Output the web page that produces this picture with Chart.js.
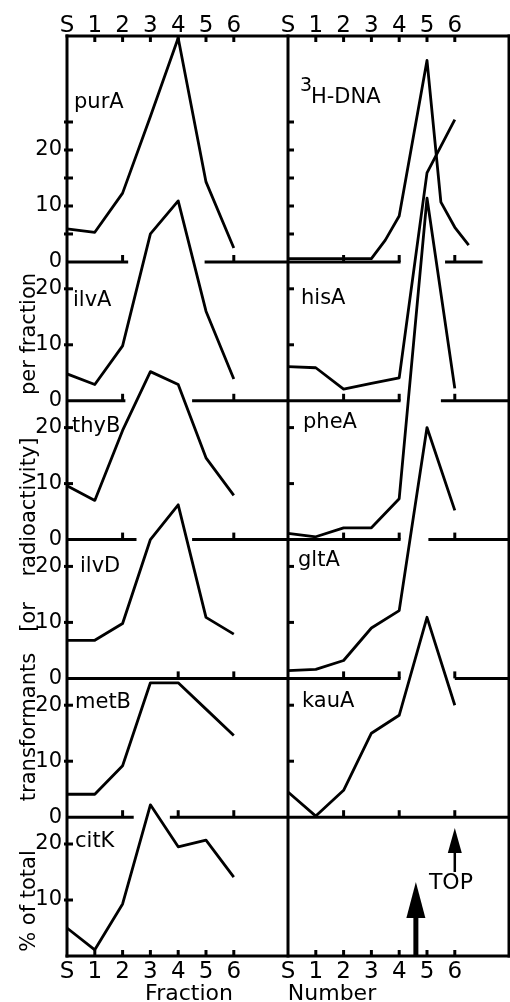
<!DOCTYPE html>
<html>
<head>
<meta charset="utf-8">
<script src="https://cdn.jsdelivr.net/npm/chart.js@4.4.0/dist/chart.umd.min.js"></script>
<style>
  html, body { margin: 0; padding: 0; background: #fff; }
  canvas { display: block; }
</style>
</head>
<body>
<canvas id="gradient" width="510" height="1002"></canvas>
<script>
// gradient fractions (S = bottom of tube) and the values per fraction
const fractions = [0, 1, 2, 3, 4, 5, 6];
const fractionLabels = ["S", "1", "2", "3", "4", "5", "6"];
const dnaFractions = [0, 1, 2, 3, 3.5, 4, 5, 5.5, 6, 6.5];

// left column, % of total transformants
const purA = [5.9, 5.3, 12.3, 26, 40, 14.3, 2.5];
const ilvA = [4.8, 2.9, 9.8, 29.8, 35.7, 16, 3.9];
const thyB = [9.6, 7, 19.5, 30, 27.7, 14.6, 7.9];
const ilvD = [6.8, 6.8, 9.8, 24.8, 31, 10.9, 7.9];
const metB = [4.1, 4.1, 9.2, 24, 24, 19.3, 14.6];
const citK = [5, 1.1, 9.3, 27, 19.5, 20.7, 14.1];

// right column, radioactivity and % of total transformants
const dna = [0.6, 0.6, 0.6, 0.6, 3.9, 8.2, 36, 10.7, 6.2, 3.0];
const hisA = [6.1, 5.9, 2.1, 3.1, 4.1, 40.7, 50.2];
const pheA = [1.1, 0.5, 2.1, 2.1, 7.3, 61, 27];
const gltA = [1.4, 1.6, 3.2, 9, 12.1, 44.8, 30];
const kauA = [4.5, 0.2, 4.8, 15, 18.2, 35.7, 20];

// y tick labels and tick marks per row
const topRowLabels = [0, 10, 20];
const rowLabels = [0, 10, 20];
const lastRowLabels = [10, 20];
const topRowMarks = [5, 10, 15, 20, 25];
const rowMarks = [10, 20];

const X_MAX = 7.95;
const ROW_MAX = 24.79;
const TOP_ROW_MAX = 40.36;

Chart.defaults.font.family = "'DejaVu Sans', sans-serif";
Chart.defaults.color = "#000";

const rowIds = ["yA", "yB", "yC", "yD", "yE", "yF"];

// label overflow padding would pull the frame in from the right edge
function noOverflow(s) {
  s.paddingLeft = 0;
  s.paddingRight = 0;
  s.paddingTop = 0;
  s.paddingBottom = 0;
}

function yAxis(order, max, shown) {
  return {
    type: "linear",
    position: "left",
    stack: "rows",
    stackWeight: max,
    weight: 10 - order,
    min: 0,
    max: max,
    grid: { display: false, drawTicks: false },
    border: { display: false },
    afterBuildTicks: s => { s.ticks = shown.map(v => ({ value: v })); },
    ticks: {
      autoSkip: false,
      padding: 5,
      font: { size: 21 },
      color: "#000"
    },
    afterFit: s => { s.width = 67; noOverflow(s); }
  };
}

function xAxis(pos, stackName, weight) {
  return {
    type: "linear",
    position: pos,
    stack: stackName,
    weight: weight,
    min: 0,
    max: X_MAX,
    grid: { display: false, drawTicks: false },
    border: { display: false },
    afterBuildTicks: s => { s.ticks = fractions.map(v => ({ value: v })); },
    ticks: {
      autoSkip: false,
      maxRotation: 0,
      padding: pos === "top" ? -4 : 2,
      font: { size: 23 },
      color: "#000",
      callback: v => fractionLabels[fractions.indexOf(v)] || ""
    },
    afterFit: s => { s.height = pos === "top" ? 36 : 46; noOverflow(s); }
  };
}

const scales = {
  x1: xAxis("bottom", "bottomRow", 0),
  x2: xAxis("bottom", "bottomRow", 1),
  xt1: xAxis("top", "topRow", 1),
  xt2: xAxis("top", "topRow", 0),
  yA: yAxis(0, TOP_ROW_MAX, topRowLabels),
  yB: yAxis(1, ROW_MAX, rowLabels),
  yC: yAxis(2, ROW_MAX, rowLabels),
  yD: yAxis(3, ROW_MAX, rowLabels),
  yE: yAxis(4, ROW_MAX, rowLabels),
  yF: yAxis(5, ROW_MAX, lastRowLabels)
};

function points(xs, ys) {
  return ys.map((y, i) => ({ x: xs[i], y: y }));
}

function series(label, xs, ys, col, row) {
  return {
    label: label,
    data: points(xs, ys),
    xAxisID: col === 0 ? "x1" : "x2",
    yAxisID: rowIds[row],
    borderColor: "#000",
    borderWidth: 2.8,
    borderJoinStyle: "round",
    pointRadius: 0,
    fill: false,
    tension: 0,
    clip: false
  };
}

const datasets = [
  series("purA", fractions, purA, 0, 0),
  series("ilvA", fractions, ilvA, 0, 1),
  series("thyB", fractions, thyB, 0, 2),
  series("ilvD", fractions, ilvD, 0, 3),
  series("metB", fractions, metB, 0, 4),
  series("citK", fractions, citK, 0, 5),
  series("3H-DNA", dnaFractions, dna, 1, 0),
  series("hisA", fractions, hisA, 1, 1),
  series("pheA", fractions, pheA, 1, 2),
  series("gltA", fractions, gltA, 1, 3),
  series("kauA", fractions, kauA, 1, 4)
];

// zero lines between rows are broken where curves pass through
const zeroLines = [
  [
    { runs: [[0, 2.2], [4.95, X_MAX]], ticks: [2, 6] },
    { runs: [[0, 2.1], [4.5, X_MAX]], ticks: [2, 6] },
    { runs: [[0, 2.5], [4.5, X_MAX]], ticks: [2, 6] },
    { runs: [[0, X_MAX]], ticks: [4, 6] },
    { runs: [[0, 2.4], [3.7, X_MAX]], ticks: [2, 4, 6] }
  ],
  [
    { runs: [[0, 4.05], [5.65, 7.0]], ticks: [2, 4, 6] },
    { runs: [[0, 4.05], [5.5, X_MAX]], ticks: [2, 4, 6] },
    { runs: [[0, 4.05], [5.05, X_MAX]], ticks: [2, 4, 6] },
    { runs: [[0, 4.05], [6.0, X_MAX]], ticks: [2, 4, 6] },
    { runs: [[0, X_MAX]], ticks: [2, 4, 6] }
  ]
];

const tags = [
  { text: "purA", col: 0, row: 0, at: 27.5, dx: 7 },
  { text: "ilvA", col: 0, row: 1, at: 17, dx: 6 },
  { text: "thyB", col: 0, row: 2, at: 19.3, dx: 5 },
  { text: "ilvD", col: 0, row: 3, at: 19, dx: 13 },
  { text: "metB", col: 0, row: 4, at: 19.5, dx: 8 },
  { text: "citK", col: 0, row: 5, at: 19.5, dx: 8 },
  { text: "H-DNA", col: 1, row: 0, at: 28.4, dx: 23, sup: "3" },
  { text: "hisA", col: 1, row: 1, at: 17.3, dx: 13 },
  { text: "pheA", col: 1, row: 2, at: 20, dx: 15 },
  { text: "gltA", col: 1, row: 3, at: 20, dx: 10 },
  { text: "kauA", col: 1, row: 4, at: 19.6, dx: 14 }
];

const yTitle = [
  { text: "% of total", y: 901 },
  { text: "transformants", y: 727 },
  { text: "[or", y: 617 },
  { text: "radioactivity]", y: 507 },
  { text: "per fraction", y: 334 }
];

const overlay = {
  id: "overlay",
  afterDraw(chart) {
    const { ctx, chartArea: a, scales: s } = chart;
    const cols = [s.x1, s.x2];
    const rows = rowIds.map(id => s[id]);
    const seg = (x0, y0, x1, y1) => {
      ctx.beginPath();
      ctx.moveTo(x0, y0);
      ctx.lineTo(x1, y1);
      ctx.stroke();
    };
    ctx.save();
    ctx.strokeStyle = "#000";
    ctx.fillStyle = "#000";
    ctx.lineWidth = 3;

    // frame and column divider
    ctx.lineCap = "square";
    seg(a.left, a.top, a.right, a.top);
    seg(a.left, a.bottom, a.right, a.bottom);
    [a.left, s.x2.left, a.right].forEach(x => seg(x, a.top, x, a.bottom));
    ctx.lineCap = "butt";

    cols.forEach((col, c) => {
      // fraction ticks, top and bottom
      for (let f = 1; f <= 6; f++) {
        const x = col.getPixelForValue(f);
        seg(x, a.top, x, a.top + 6);
        seg(x, a.bottom, x, a.bottom - 6);
      }
      // zero lines of the upper rows
      zeroLines[c].forEach((z, r) => {
        const y = rows[r].getPixelForValue(0);
        z.runs.forEach(([u, v]) => seg(col.getPixelForValue(u), y, col.getPixelForValue(v), y));
        z.ticks.forEach(f => {
          const x = col.getPixelForValue(f);
          seg(x, y, x, y - 7);
        });
      });
      // value ticks on the left side of each column
      rows.forEach((row, r) => {
        if (c === 1 && r === 5) return;
        const marks = r === 0 ? topRowMarks : rowMarks;
        marks.forEach(v => {
          const y = row.getPixelForValue(v);
          seg(col.left - (c === 0 ? 3 : 0), y, col.left + 6, y);
        });
      });
    });

    // row names
    ctx.textAlign = "left";
    ctx.textBaseline = "alphabetic";
    tags.forEach(t => {
      const x0 = cols[t.col].left;
      const y = rows[t.row].getPixelForValue(t.at);
      ctx.font = "21px 'DejaVu Sans'";
      ctx.fillText(t.text, x0 + t.dx, y);
      if (t.sup) {
        ctx.font = "19px 'DejaVu Sans'";
        ctx.fillText(t.sup, x0 + t.dx - 11, y - 12);
      }
    });

    // y title, reading upwards
    ctx.font = "21px 'DejaVu Sans'";
    ctx.textAlign = "center";
    ctx.textBaseline = "middle";
    yTitle.forEach(w => {
      ctx.save();
      ctx.translate(30, w.y);
      ctx.rotate(-Math.PI / 2);
      ctx.fillText(w.text, 0, 0);
      ctx.restore();
    });

    // x title
    ctx.font = "22px 'DejaVu Sans'";
    ctx.textBaseline = "alphabetic";
    ctx.fillText("Fraction", 189, 1000);
    ctx.fillText("Number", 332, 1000);

    // arrows in the empty bottom-right row
    const bx = s.x2.getPixelForValue(4.6);
    ctx.fillRect(bx - 2.5, a.bottom - 38, 5, 38);
    ctx.beginPath();
    ctx.moveTo(bx - 9.5, a.bottom - 38);
    ctx.lineTo(bx + 9.5, a.bottom - 38);
    ctx.lineTo(bx, a.bottom - 74);
    ctx.closePath();
    ctx.fill();

    const tx = s.x2.getPixelForValue(6);
    ctx.lineWidth = 2.5;
    seg(tx, a.bottom - 84, tx, a.bottom - 104);
    ctx.beginPath();
    ctx.moveTo(tx - 7, a.bottom - 103);
    ctx.lineTo(tx + 7, a.bottom - 103);
    ctx.lineTo(tx, a.bottom - 128);
    ctx.closePath();
    ctx.fill();

    ctx.font = "22px 'DejaVu Sans'";
    ctx.textAlign = "center";
    ctx.textBaseline = "middle";
    ctx.fillText("TOP", s.x2.getPixelForValue(5.86), a.bottom - 73);

    ctx.restore();
  }
};

new Chart(document.getElementById("gradient"), {
  type: "line",
  data: { datasets: datasets },
  options: {
    responsive: false,
    animation: false,
    layout: { autoPadding: false, padding: { left: 0, right: 1, top: 0, bottom: 0 } },
    plugins: { legend: { display: false }, tooltip: { enabled: false } },
    scales: scales
  },
  plugins: [overlay]
});
</script>
</body>
</html>
